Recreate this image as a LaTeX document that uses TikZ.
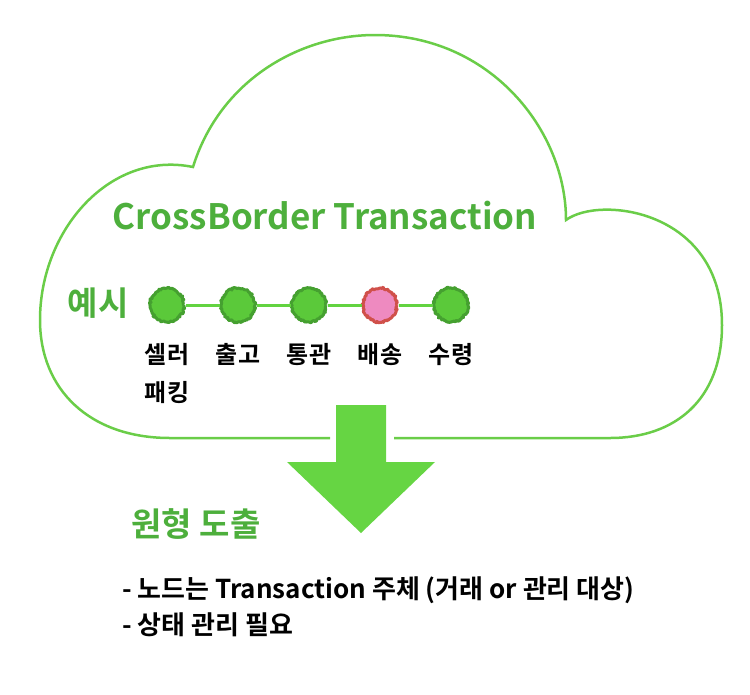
\documentclass[tikz,border=0pt]{standalone}
\usepackage{fontspec}
\setmainfont{Noto Sans CJK KR}
\newfontfamily\krb{Noto Sans CJK KR Bold}
\usetikzlibrary{positioning,decorations.pathmorphing}
\definecolor{cloudgreen}{HTML}{6ACD48}
\definecolor{titlegreen}{HTML}{4DAF3C}
\definecolor{dotgreen}{HTML}{5BC93A}
\definecolor{dotedge}{HTML}{45A030}
\definecolor{linkgreen}{HTML}{62D340}
\definecolor{arrowgreen}{HTML}{66D543}
\definecolor{dotpink}{HTML}{EE8AC0}
\definecolor{dotred}{HTML}{D0504A}
\tikzset{
  stage/.style={circle,minimum size=34pt,inner sep=0pt,fill=dotgreen,draw=dotedge,
    line width=3pt,line join=round,decorate,
    decoration={random steps,segment length=1.2pt,amplitude=1pt}},
  hot/.style={stage,fill=dotpink,draw=dotred},
  link/.style={linkgreen,line width=3pt},
  lbl/.style={font=\krb\fontsize{24}{38}\selectfont,inner sep=0pt,align=center},
  head/.style={text=titlegreen,inner sep=0pt}
}
\begin{document}
\begin{tikzpicture}[x=1pt,y=-1pt]
  \useasboundingbox (0,0) rectangle (750,694);
  % cloud
  \draw [cloudgreen,line width=2.5pt]
    (330,438) -- (170,438)
    .. controls (90,438) and (40,390) .. (40,320)
    .. controls (40,230) and (110,150) .. (193,167)
    .. controls (220,80) and (300,35) .. (375,35)
    .. controls (490,35) and (566,130) .. (566,220)
    .. controls (600,195) and (722,210) .. (722,325)
    .. controls (722,400) and (675,438) .. (610,438) -- (394,438);
  \node [head,font=\krb\fontsize{35}{35}\selectfont] (title) at (325,216) {CrossBorder Transaction};
  \node [head,font=\krb\fontsize{33}{33}\selectfont] (ex) at (98,303) {예시};
  % stages
  \node [stage] (s1) at (167,305) {};
  \node [stage] (s2) at (238,305) {};
  \node [stage] (s3) at (309,305) {};
  \node [hot]   (s4) at (380,305) {};
  \node [stage] (s5) at (451,305) {};
  \draw [link] (s1) -- (s2) (s2) -- (s3) (s3) -- (s4) (s4) -- (s5);
  \node [lbl,below=20pt of s1] (l1) {셀러\\패킹};
  \node [lbl,below=20pt of s2] (l2) {출고};
  \node [lbl,below=20pt of s3] (l3) {통관};
  \node [lbl,below=20pt of s4] (l4) {배송};
  \node [lbl,below=20pt of s5] (l5) {수령};
  % arrow
  \fill [arrowgreen] (336,405) -- (386,405) -- (386,462) -- (435,462)
    -- (361,533) -- (287,462) -- (336,462) -- cycle;
  \node [head,font=\krb\fontsize{33}{33}\selectfont] (res) at (196,524) {원형 도출};
  \node [font=\krb\fontsize{26}{36}\selectfont,align=left,inner sep=0pt,anchor=west] (notes) at (122,607)
    {- 노드는 Transaction 주체 (거래 or 관리 대상)\\- 상태 관리 필요};
\end{tikzpicture}
\end{document}
